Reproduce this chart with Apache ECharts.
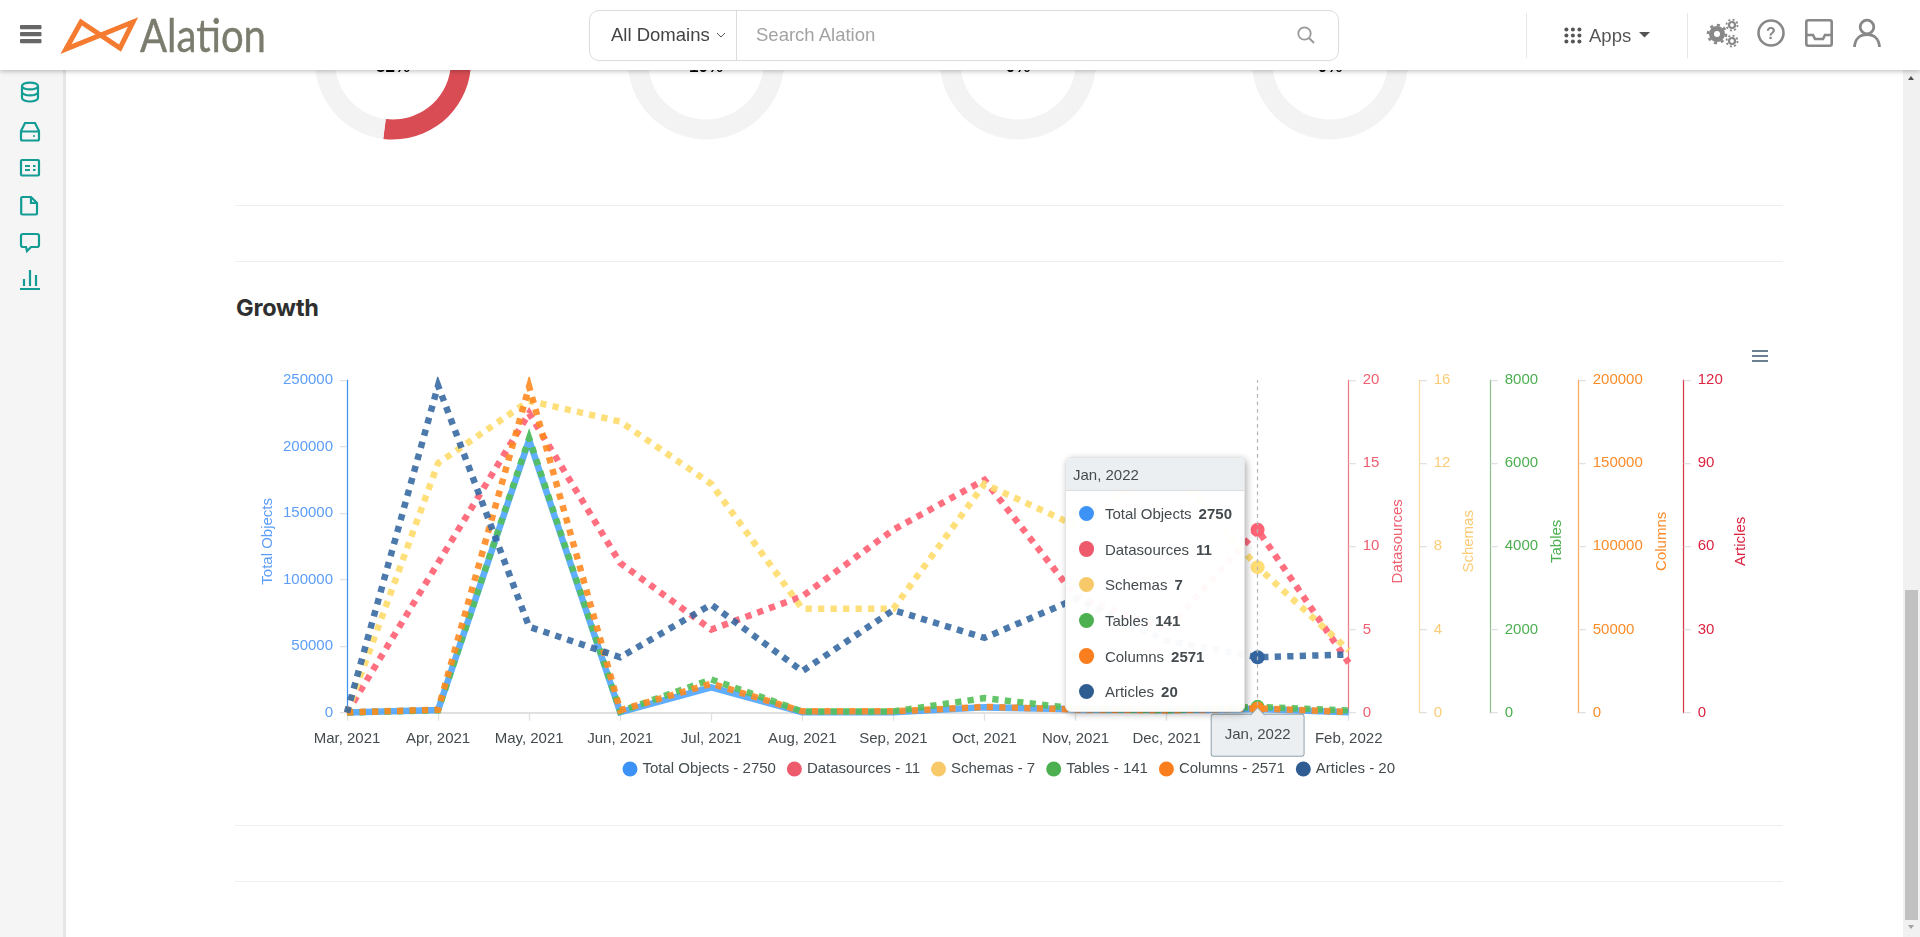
<!DOCTYPE html>
<html>
<head>
<meta charset="utf-8">
<title>Growth</title>
<script src="https://cdn.jsdelivr.net/npm/echarts@6/dist/echarts.min.js"></script>
<style>
    html, body { margin: 0; padding: 0; width: 1920px; height: 937px; overflow: hidden; background: #fff;
        font-family: "Liberation Sans", Arial, sans-serif; }
    #chart { position: absolute; left: 0; top: 0; width: 1920px; height: 937px; }
    .rule { position: absolute; left: 235px; width: 1548px; height: 1px; background: #eeeeee; }
    #title { position: absolute; left: 236px; top: 293px; font: bold 23.5px Inter, "Liberation Sans", sans-serif; color: #2f2f2f; letter-spacing: -0.2px; }
    #menu { position: absolute; left: 1752px; top: 350px; width: 16px; height: 12px; z-index: 3; }
    #menu i { display: block; height: 1.5px; background: #6e8192; margin-bottom: 3.5px; }
    #header { position: absolute; left: 0; top: 0; width: 1920px; height: 70px; background: #fff; z-index: 10;
        box-shadow: 0 1px 5px rgba(0,0,0,.28); }
    #side { position: absolute; left: 0; top: 70px; width: 63px; height: 867px; background: #f5f5f5;
        border-right: 3px solid #e6e6e6; z-index: 5; }
    #scroll { position: absolute; left: 1903px; top: 70px; width: 17px; height: 867px; background: #f1f1f1; z-index: 5; }
    #thumb { position: absolute; left: 2px; top: 520px; width: 13px; height: 330px; background: #c1c1c1; }
    .up, .down { position: absolute; left: 5px; width: 0; height: 0; border-left: 3.5px solid transparent; border-right: 3.5px solid transparent; }
    .up { top: 6px; border-bottom: 4px solid #505050; }
    .down { top: 855px; border-top: 4px solid #a3a3a3; }
    #search { position: absolute; left: 589px; top: 10px; width: 748px; height: 49px; border: 1px solid #dcdcdc; border-radius: 10px; box-sizing: content-box; }
    #search .div { position: absolute; left: 146px; top: 0; width: 1px; height: 49px; background: #dcdcdc; }
    .htext { position: absolute; font-size: 18.5px; line-height: 22px; white-space: nowrap; }
    .vr { position: absolute; top: 13px; width: 1px; height: 45px; background: #e6e6e6; }
    svg { position: absolute; overflow: visible; }
</style>
</head>
<body>

<div class="rule" style="top:205px"></div>
<div class="rule" style="top:261px"></div>
<div class="rule" style="top:825px"></div>
<div class="rule" style="top:881px"></div>
<div id="title">Growth</div>
<div id="menu"><i></i><i></i><i></i></div>
<div id="chart"></div>

<div id="header">
    <svg style="left:0;top:0" width="300" height="70">
        <g fill="#666"><rect x="20" y="25" width="21.5" height="4.2" rx="1"/><rect x="20" y="32" width="21.5" height="4.2" rx="1"/><rect x="20" y="39" width="21.5" height="4.2" rx="1"/></g>
        <path d="M66,49 L81,22 L120,48 L133,22 Z" fill="none" stroke="#f47b30" stroke-width="5" stroke-linejoin="miter"/>
        <text x="140" y="52" font-family="Lato, sans-serif" font-size="47" fill="#7b7c6e" stroke="#7b7c6e" stroke-width="0.4" textLength="126" lengthAdjust="spacingAndGlyphs">Alation</text>
    </svg>
    <div id="search">
        <div class="div"></div>
    </div>
    <div class="htext" style="left:611px;top:24px;color:#444">All Domains</div>
    <svg style="left:716px;top:31px" width="10" height="8"><path d="M1,2 L5,6 L9,2" fill="none" stroke="#555" stroke-width="1"/></svg>
    <div class="htext" style="left:756px;top:24px;color:#a3a3a3">Search Alation</div>
    <svg style="left:1297px;top:26px" width="18" height="18"><circle cx="7.5" cy="7.5" r="6.2" fill="none" stroke="#999" stroke-width="1.8"/><path d="M12,12 L17,17" stroke="#999" stroke-width="2"/></svg>
    <div class="vr" style="left:1526px"></div>
    <div class="vr" style="left:1687px"></div>
    <svg style="left:1564px;top:27px" width="18" height="17" fill="#555">
        <circle cx="2.4" cy="2.4" r="2"/><circle cx="8.9" cy="2.4" r="2"/><circle cx="15.4" cy="2.4" r="2"/>
        <circle cx="2.4" cy="8.4" r="2"/><circle cx="8.9" cy="8.4" r="2"/><circle cx="15.4" cy="8.4" r="2"/>
        <circle cx="2.4" cy="14.4" r="2"/><circle cx="8.9" cy="14.4" r="2"/><circle cx="15.4" cy="14.4" r="2"/>
    </svg>
    <div class="htext" style="left:1589px;top:25px;color:#555">Apps</div>
    <svg style="left:1639px;top:32px" width="11" height="6"><path d="M0,0 L11,0 L5.5,5.5 Z" fill="#555"/></svg>
    <svg style="left:1708px;top:19px" width="30" height="28" fill="none" stroke="#888">
        <circle cx="9" cy="15" r="5.5" stroke-width="5"/><circle cx="9" cy="15" r="9" stroke-width="2.6" stroke-dasharray="3 4"/>
        <circle cx="24" cy="6" r="3" stroke-width="2.2"/><circle cx="24" cy="6" r="5.5" stroke-width="1.8" stroke-dasharray="2 2.3"/>
        <circle cx="24" cy="22" r="3" stroke-width="2.2"/><circle cx="24" cy="22" r="5.5" stroke-width="1.8" stroke-dasharray="2 2.3"/>
    </svg>
    <svg style="left:1757px;top:19px" width="28" height="28"><circle cx="14" cy="14" r="12.5" fill="none" stroke="#888" stroke-width="2.6"/><text x="14" y="19.5" text-anchor="middle" font-size="16" font-weight="bold" fill="#888" font-family="Liberation Sans">?</text></svg>
    <svg style="left:1805px;top:19px" width="28" height="28" fill="none" stroke="#888" stroke-width="2.6"><rect x="1.3" y="1.3" width="25.4" height="25.4" rx="2"/><path d="M1.3,16 L8,16 L10,20 L18,20 L20,16 L26.7,16"/></svg>
    <svg style="left:1853px;top:19px" width="28" height="28" fill="none" stroke="#888" stroke-width="2.8"><circle cx="14" cy="8" r="6.8"/><path d="M1.5,28 C2,20 7,15.5 14,15.5 C21,15.5 26,20 26.5,28"/></svg>
</div>

<div id="side">
    <svg style="left:20px;top:12px" width="20" height="20" fill="none" stroke="#129c93" stroke-width="2.2"><ellipse cx="10" cy="4" rx="8" ry="3.4"/><path d="M2,4 V16 C2,18 6,19.5 10,19.5 C14,19.5 18,18 18,16 V4 M2,10 C2,12 6,13.4 10,13.4 C14,13.4 18,12 18,10"/></svg>
    <svg style="left:20px;top:52px" width="20" height="20" fill="none" stroke="#129c93" stroke-width="2.2"><path d="M5,1 H15 L19,9 V17 Q19,18.5 17.5,18.5 H2.5 Q1,18.5 1,17 V9 Z M1,9.5 H19"/><circle cx="14" cy="14" r="1" fill="#129c93" stroke="none"/></svg>
    <svg style="left:20px;top:89px" width="20" height="18" fill="none" stroke="#129c93" stroke-width="2.2"><rect x="1" y="1" width="18" height="15.5" rx="1"/><path d="M5,7 H10 M5,11 H10 M13,7 H15.5 M13,11 H15.5"/></svg>
    <svg style="left:20px;top:126px" width="18" height="20" fill="none" stroke="#129c93" stroke-width="2.2"><path d="M2.5,1 H11 L17,7 V17.5 Q17,18.5 16,18.5 H2.5 Q1.2,18.5 1.2,17.5 V2 Q1.2,1 2.5,1 Z M11,1 V7 H17"/></svg>
    <svg style="left:20px;top:163px" width="20" height="20" fill="none" stroke="#129c93" stroke-width="2.2"><path d="M3,1 H17 Q19,1 19,3 V12 Q19,14 17,14 H11 L7,18 L6,14 H3 Q1,14 1,12 V3 Q1,1 3,1 Z"/></svg>
    <svg style="left:20px;top:200px" width="20" height="20" fill="none" stroke="#129c93" stroke-width="2.2"><path d="M0,19 H20" stroke-width="2"/><path d="M4,16 V9 M10,16 V0 M16,16 V5"/></svg>
</div>

<div id="scroll"><div class="up"></div><div id="thumb"></div><div class="down"></div></div>

<script>
// x axis months
var months = ['Mar, 2021', 'Apr, 2021', 'May, 2021', 'Jun, 2021', 'Jul, 2021', 'Aug, 2021',
              'Sep, 2021', 'Oct, 2021', 'Nov, 2021', 'Dec, 2021', 'Jan, 2022', 'Feb, 2022'];

// series
var totalObjects = [200, 2000, 205000, 400, 19000, 300, 400, 4000, 2500, 2000, 2750, 300];
var datasources = [0, 9, 18, 9, 5, 7, 11, 14, 7, 5, 11, 3];
var schemas = [0, 12, 15, 14, 11, 5, 5, 11, 9, 12, 7, 3];
var tables = [5, 60, 6600, 30, 800, 30, 30, 350, 100, 60, 141, 50];
var columns = [200, 1800, 196000, 1500, 17500, 800, 800, 3500, 2000, 1500, 2571, 400];
var articles = [0, 118, 31, 20, 39, 15, 37, 27, 41, 26, 20, 21];

// donuts cut off by the page header
var donutValues = [52, 10, 0, 0];
var donutCenters = [393, 706, 1018, 1330];

var hoverIndex = 10;
var font = '"Liberation Sans", Arial, sans-serif';
var textColor = '#444b4f';

// one right/left value axis
function valueAxis(name, max, interval, position, offset, lineColor, labelColor, nameGap) {
    return {
        type: 'value',
        name: name,
        nameLocation: 'middle',
        nameGap: nameGap,
        nameMoveOverlap: false,
        nameTextStyle: {
            color: labelColor,
            fontSize: 15,
            fontFamily: font,
            padding: [0, 0, 0, 10]
        },
        position: position,
        offset: offset,
        min: 0,
        max: max,
        interval: interval,
        axisLine: { show: true, onZero: false, lineStyle: { color: lineColor, width: 1.25 } },
        axisTick: { show: true, length: 7, lineStyle: { color: '#e0e0e0', width: 1.25 } },
        axisLabel: {
            color: labelColor,
            fontSize: 15,
            fontFamily: font,
            margin: 14,
            verticalAlign: 'middle',
            padding: [0, 0, 9, 0],
            formatter: function (v) { return String(v); }
        },
        splitLine: { show: false }
    };
}

// dashed line, total objects stays solid
function lineSeries(name, data, color, axisIndex, opacity, solid) {
    return {
        type: 'line',
        name: name,
        data: data,
        yAxisIndex: axisIndex,
        color: color,
        showSymbol: true,
        showAllSymbol: true,
        symbol: 'circle',
        symbolSize: function (value, params) {
            return params.dataIndex == hoverIndex ? 14 : 0;
        },
        animation: false,
        z: 3 + axisIndex,
        lineStyle: {
            color: color,
            width: 6.5,
            opacity: opacity,
            type: solid ? 'solid' : [6.25, 6.25],
            cap: 'butt',
            join: 'miter',
            miterLimit: 10
        },
        emphasis: { scale: 1, lineStyle: { width: 6.5 } }
    };
}

function donut(centerX, value) {
    return {
        type: 'pie',
        center: [centerX, 61.5],
        radius: [58, 78],
        startAngle: 90,
        silent: true,
        animation: false,
        label: { show: false },
        labelLine: { show: false },
        data: [
            { value: value, name: 'used', itemStyle: { color: '#d94c53' } },
            { value: 100 - value, name: 'rest', itemStyle: { color: '#f3f3f3' } }
        ]
    };
}

function tooltipHtml(params) {
    var rows = '';
    for (var i = 0; i < params.length; i++) {
        rows += '<div style="height:35.7px;display:flex;align-items:center;padding-left:12.5px">' +
            '<span style="width:15.4px;height:15.4px;border-radius:50%;background:' + params[i].color + ';margin-right:11px"></span>' +
            '<span>' + params[i].seriesName + '</span>' +
            '<b style="margin-left:7px">' + params[i].value + '</b></div>';
    }
    return '<div style="height:32px;line-height:33px;padding-left:7px;background:#eceff1;border-bottom:1px solid #ddd;border-radius:5px 5px 0 0">' +
        params[0].axisValue + '</div><div style="padding-top:4.5px">' + rows + '</div>';
}

var seriesList = [
    lineSeries('Total Objects', totalObjects, '#3d92f5', 0, 0.85, true),
    lineSeries('Datasources', datasources, '#ec5a6b', 1, 0.92),
    lineSeries('Schemas', schemas, '#f7c969', 2, 0.95),
    lineSeries('Tables', tables, '#4caf50', 3, 0.9),
    lineSeries('Columns', columns, '#fa7d1e', 4, 0.9),
    lineSeries('Articles', articles, '#2f5d92', 5, 0.88)
];
var legendNames = [];
var lastValues = {};
for (var i = 0; i < seriesList.length; i++) {
    legendNames.push(seriesList[i].name);
    lastValues[seriesList[i].name] = seriesList[i].data[hoverIndex];
}

var donutSeries = [];
var graphicList = [];
for (var d = 0; d < donutValues.length; d++) {
    donutSeries.push(donut(donutCenters[d], donutValues[d]));
    graphicList.push({
        type: 'text',
        silent: true,
        style: {
            x: donutCenters[d],
            y: 76,
            text: donutValues[d] + '%',
            align: 'center',
            verticalAlign: 'bottom',
            fill: '#000',
            font: 'bold 17px ' + font
        }
    });
}

var myChart = echarts.init(document.getElementById('chart'));
var option = {
    animation: false,
    textStyle: { fontFamily: font },
    grid: { left: 347, top: 380, width: 1001.7, height: 332.7 },
    xAxis: {
        type: 'category',
        data: months,
        boundaryGap: false,
        axisLine: { lineStyle: { color: '#e0e0e0', width: 2 } },
        axisTick: { show: true, length: 8, lineStyle: { color: '#e0e0e0', width: 1.25 } },
        axisLabel: { color: textColor, fontSize: 15, fontFamily: font, margin: 19, interval: 0, hideOverlap: false },
        splitLine: { show: false }
    },
    yAxis: [
        valueAxis('Total Objects', 250000, 50000, 'left', 0, '#3d92f5', '#5c9df8', 72),
        valueAxis('Datasources', 20, 5, 'right', 0, '#ef7a87', '#ee5f70', 42),
        valueAxis('Schemas', 16, 4, 'right', 71, '#fddb9c', '#fbcb75', 42),
        valueAxis('Tables', 8000, 2000, 'right', 142, '#8fc090', '#4caf50', 59),
        valueAxis('Columns', 200000, 50000, 'right', 230, '#fba95c', '#fb8c2b', 76),
        valueAxis('Articles', 120, 30, 'right', 335, '#d23c48', '#dc2440', 50)
    ],
    legend: {
        left: 617.5,
        top: 756.5,
        data: legendNames,
        icon: 'circle',
        itemWidth: 15,
        itemHeight: 15,
        itemGap: 11,
        selectedMode: false,
        textStyle: { color: textColor, fontSize: 15, fontFamily: font },
        formatter: function (name) { return name + ' - ' + lastValues[name]; }
    },
    tooltip: {
        trigger: 'axis',
        alwaysShowContent: true,
        transitionDuration: 0,
        showDelay: 0,
        padding: 0,
        borderWidth: 1,
        borderColor: '#e3e3e3',
        backgroundColor: 'rgba(255,255,255,0.96)',
        textStyle: { color: textColor, fontSize: 15, fontFamily: font },
        extraCssText: 'width:178px;height:253px;border-radius:6px;box-shadow:2px 2px 7px rgba(0,0,0,.3);box-sizing:content-box;',
        position: function () { return [1065, 457]; },
        formatter: tooltipHtml,
        axisPointer: {
            type: 'line',
            axis: 'x',
            lineStyle: { color: '#b6b6b6', width: 1.25, type: [3.75, 3.75] },
            label: {
                show: true,
                color: textColor,
                fontSize: 15,
                fontFamily: font,
                backgroundColor: '#eceff1',
                borderColor: '#90a4ae',
                borderWidth: 1,
                borderRadius: 2,
                padding: [13, 13, 13, 13],
                margin: 2,
                shadowBlur: 0
            }
        }
    },
    series: seriesList.concat(donutSeries)
};
myChart.setOption(option);

// small arrow on the crosshair label
var hoverX = myChart.convertToPixel({ xAxisIndex: 0 }, months[hoverIndex]);
var axisY = myChart.convertToPixel({ yAxisIndex: 0 }, 0);
graphicList.push({
    type: 'polyline',
    z: 100,
    zlevel: 1,
    shape: { points: [[hoverX - 7, axisY + 2.6], [hoverX, axisY - 5], [hoverX + 7, axisY + 2.6]] },
    style: { fill: '#eceff1', stroke: '#90a4ae', lineWidth: 1 }
});
myChart.setOption({ graphic: graphicList });

myChart.dispatchAction({ type: 'showTip', seriesIndex: 0, dataIndex: hoverIndex });
</script>
</body>
</html>
